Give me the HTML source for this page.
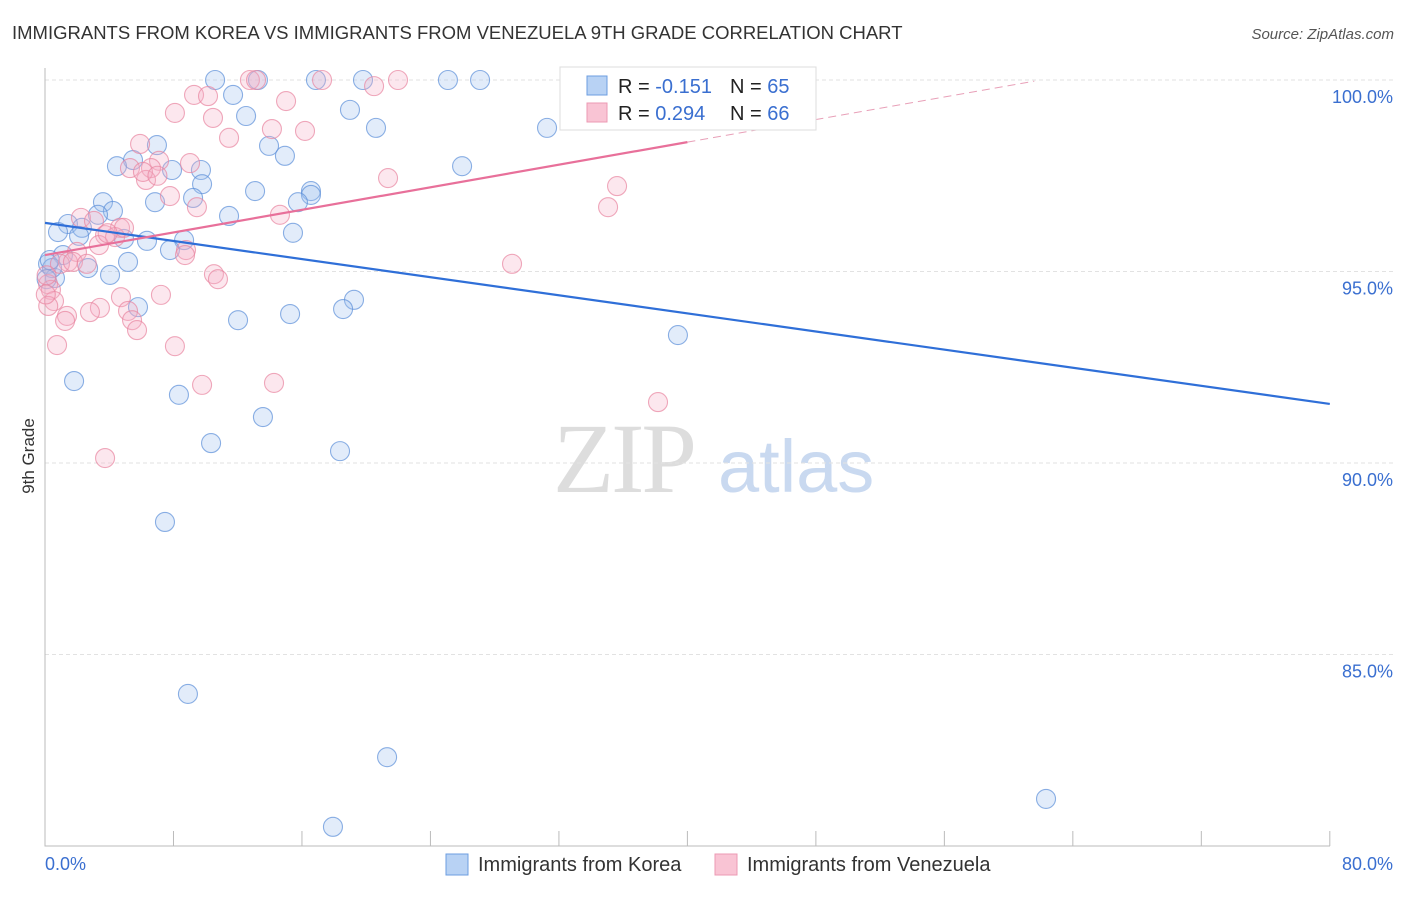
<!DOCTYPE html>
<html><head><meta charset="utf-8"><style>
body{margin:0;background:#fff;font-family:"Liberation Sans",sans-serif}
</style></head><body>
<svg id="c" width="1406" height="892" font-family="Liberation Sans, sans-serif">
<text x="12" y="39" font-size="18.5" fill="#333">IMMIGRANTS FROM KOREA VS IMMIGRANTS FROM VENEZUELA 9TH GRADE CORRELATION CHART</text>
<text x="1394" y="39" font-size="15" fill="#555" font-style="italic" text-anchor="end">Source: ZipAtlas.com</text>
<g><text x="553" y="492" font-size="100" fill="#ddd" style="font-family:'Liberation Serif',serif" letter-spacing="-3">ZIP</text><text x="718" y="492" font-size="74" fill="#c9d9f0">atlas</text></g>
<g id="grid"></g><g id="marks"></g>
<text transform="translate(34,456) rotate(-90)" font-size="17" fill="#333" text-anchor="middle">9th Grade</text>
<g>
<rect x="560" y="67" width="256" height="63" fill="#fff" stroke="#ddd"/>
<rect x="587" y="76" width="20" height="19" fill="#b8d2f4" stroke="#6c9ee0"/>
<rect x="587" y="103" width="20" height="19" fill="#f9c4d4" stroke="#ec9ab3"/>
<text x="618" y="93" font-size="20" fill="#222">R = <tspan fill="#3a6fd0">-0.151</tspan></text>
<text x="730" y="93" font-size="20" fill="#222">N = <tspan fill="#3a6fd0">65</tspan></text>
<text x="618" y="120" font-size="20" fill="#222">R = <tspan fill="#3a6fd0">0.294</tspan></text>
<text x="730" y="120" font-size="20" fill="#222">N = <tspan fill="#3a6fd0">66</tspan></text>
</g>
<g>
<rect x="446" y="854" width="22" height="21" fill="#b8d2f4" stroke="#6c9ee0"/>
<text x="478" y="871" font-size="20" fill="#333">Immigrants from Korea</text>
<rect x="715" y="854" width="22" height="21" fill="#f9c4d4" stroke="#ec9ab3"/>
<text x="747" y="871" font-size="20" fill="#333">Immigrants from Venezuela</text>
</g>
</svg>
<script>
const yTicks=[100,95,90,85];
const yTickLabels=["100.0%","95.0%","90.0%","85.0%"];
const xTickVals=[0,8,16,24,32,40,48,56,64,72,80];
const xEndLabels=["0.0%","80.0%"];
const koreaX=[10.59,13.26,16.87,19.80,25.09,27.09,33.94,11.71,18.99,12.52,20.61,31.26,6.97,13.95,14.94,5.48,4.48,7.91,25.97,9.71,9.78,13.08,16.56,16.56,3.61,6.85,9.22,15.75,4.23,3.30,11.46,1.43,2.30,0.81,15.44,2.12,4.92,6.35,8.66,7.78,1.12,0.19,5.17,2.68,4.05,0.62,19.24,5.79,18.56,15.26,12.02,39.41,1.81,8.34,13.57,10.34,18.37,7.47,8.90,21.30,62.33,17.93,0.44,0.1,0.3];
const koreaY=[100,100,100,100,100,100,100,99.61,99.22,99.06,98.75,98.75,98.30,98.28,98.02,97.91,97.75,97.65,97.75,97.65,97.28,97.10,97.10,97.00,96.81,96.81,96.92,96.81,96.58,96.48,96.45,96.24,96.14,96.03,96.01,95.93,95.85,95.80,95.82,95.56,95.43,95.20,95.25,95.09,94.91,94.83,94.26,94.07,94.02,93.89,93.73,93.34,92.14,91.78,91.20,90.52,90.31,88.46,83.97,82.32,81.23,80.50,95.09,94.8,95.3];
const venX=[12.76,13.14,17.25,21.98,20.49,9.28,10.15,15.01,8.09,10.46,11.46,14.13,16.19,5.92,9.03,7.10,6.60,5.29,6.29,21.36,35.62,7.78,9.46,14.63,35.06,2.24,3.05,4.67,3.74,4.36,4.92,3.36,1.99,8.78,8.72,1.43,0.93,1.74,29.08,10.52,10.77,0.19,0.37,0.56,4.73,7.22,3.42,5.17,2.80,1.37,1.25,5.42,5.73,0.75,8.09,9.78,14.26,38.17,3.74,0.1,0.2,2.6,3.9,6.1,7.0,0.05];
const venY=[100,100,100,100,99.84,99.61,99.58,99.45,99.14,99.01,98.49,98.72,98.67,98.33,97.83,97.89,97.70,97.70,97.39,97.44,97.23,96.97,96.68,96.48,96.68,96.40,96.32,96.14,95.95,95.90,96.14,95.69,95.51,95.56,95.43,95.25,95.20,95.25,95.20,94.93,94.80,94.67,94.52,94.23,94.33,94.39,94.05,93.97,93.94,93.84,93.71,93.73,93.47,93.08,93.05,92.04,92.09,91.59,90.13,94.9,94.1,95.2,96.0,97.6,97.5,94.4];
const koreaTrend=[96.27,-0.0591];
const venTrend=[95.43,0.0737];
const X=v=>45+v*16.06, Y=v=>80+(100-v)*38.3;
const NS="http://www.w3.org/2000/svg";
function mk(tag,attrs,parent){const e=document.createElementNS(NS,tag);for(const k in attrs)e.setAttribute(k,attrs[k]);parent.appendChild(e);return e;}
const grid=document.getElementById('grid'), marks=document.getElementById('marks');
yTicks.forEach((t,i)=>{
 const l=mk('line',{x1:45,x2:1393,y1:Y(t),y2:Y(t),stroke:'#e2e2e2','stroke-dasharray':'4,3'},grid);
 
 
 const tx=mk('text',{x:1393,y:Y(t)+23,'font-size':18,fill:'#3a6fd0','text-anchor':'end'},grid);
 tx.textContent=yTickLabels[i];
 
 
});
const ax=mk('path',{d:`M45 68V${Y(80)}H1330`,stroke:'#bbb',fill:'none'},grid);


xTickVals.forEach(v=>{
 const t=mk('line',{x1:X(v),x2:X(v),y1:Y(80)-15,y2:Y(80),stroke:'#bbb'},grid);
 
 
});
[[0,'start',45],[80,'end',1393]].forEach((a,i)=>{
 const t=mk('text',{x:a[2],y:870,'font-size':18,fill:'#3a6fd0','text-anchor':a[1]},grid);
 t.textContent=xEndLabels[i];
 
 
});
function pts(xs,ys,fill,stroke,name){xs.forEach((x,i)=>{
 const c=mk('circle',{cx:X(x),cy:Y(ys[i]),r:9.5,fill:fill,'fill-opacity':0.3,stroke:stroke,'stroke-opacity':0.7,'stroke-width':1.1},marks);
 
 
});}
pts(koreaX,koreaY,'#9ec0ee','#5b8fd8','korea-point');
pts(venX,venY,'#f5b0c6','#e8849f','venezuela-point');
const bl=mk('line',{x1:X(0),y1:Y(koreaTrend[0]),x2:X(80),y2:Y(koreaTrend[0]+koreaTrend[1]*80),stroke:'#2f6fd8','stroke-width':2.2},marks);


const pl=mk('line',{x1:X(0),y1:Y(venTrend[0]),x2:X(40),y2:Y(venTrend[0]+venTrend[1]*40),stroke:'#e8709a','stroke-width':2.2},marks);


const pd=mk('line',{x1:X(40),y1:Y(venTrend[0]+venTrend[1]*40),x2:X(61.6),y2:Y(venTrend[0]+venTrend[1]*61.6),stroke:'#e8a0b8','stroke-width':1,'stroke-dasharray':'8,5'},marks);


</script>
</body></html>
